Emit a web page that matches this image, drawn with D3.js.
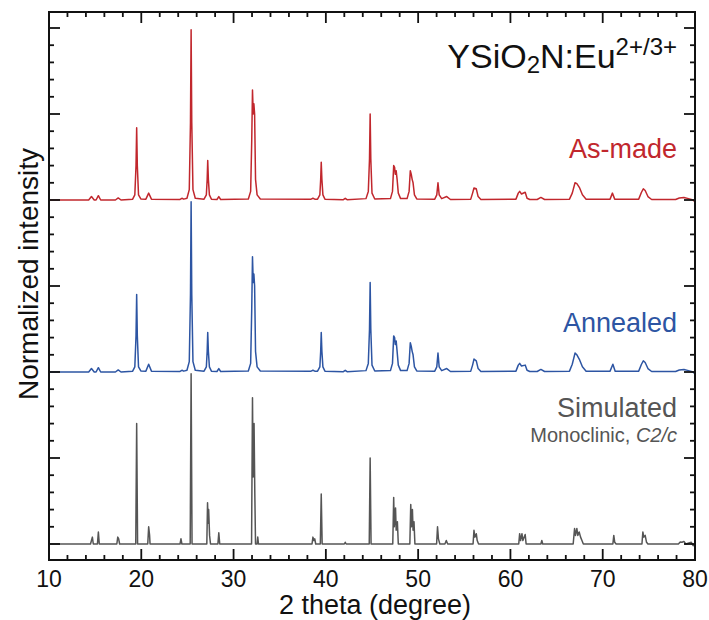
<!DOCTYPE html>
<html><head><meta charset="utf-8">
<script src="https://cdn.jsdelivr.net/npm/d3@7"></script>
<style>body{margin:0;background:#fff;} svg{display:block;font-family:"Liberation Sans",Arial,sans-serif;}</style>
</head><body><svg id="c" width="709" height="620"></svg>
<script>
// ---- data: [2theta, normalized intensity] vertices ----
const asMade = [[10,0],[14.3,0],[14.6,0.02],[14.9,0],[15.1,0],[15.35,0.025],[15.6,0],[17.2,0],[17.5,0.012],[17.8,0],
[19.05,0.004],[19.3,0.03],[19.43,0.2],[19.5,0.42],[19.57,0.2],[19.7,0.03],[19.95,0.006],[20.5,0.005],[20.8,0.04],[21.1,0.005],[24.2,0.003],[24.4,0.01],[24.6,0.005],
[24.95,0.01],[25.2,0.06],[25.33,0.45],[25.4,0.99],[25.47,0.45],[25.6,0.06],[25.85,0.01],
[26.8,0.005],[27.05,0.03],[27.14,0.12],[27.2,0.23],[27.27,0.12],[27.38,0.03],[27.6,0.005],
[28.2,0.003],[28.4,0.02],[28.6,0.003],
[31.6,0.006],[31.85,0.05],[31.97,0.35],[32.05,0.64],[32.13,0.5],[32.2,0.56],[32.28,0.5],[32.38,0.12],[32.55,0.03],[32.9,0.006],
[38.4,0.005],[38.6,0.01],[38.8,0.005],[39.1,0.005],[39.35,0.03],[39.44,0.12],[39.5,0.22],[39.57,0.12],[39.68,0.03],[39.9,0.005],
[41.9,0.002],[42.1,0.01],[42.3,0.002],
[44.35,0.008],[44.6,0.05],[44.73,0.24],[44.8,0.5],[44.87,0.24],[45.0,0.04],[45.3,0.006],
[47.0,0.008],[47.22,0.05],[47.35,0.2],[47.45,0.19],[47.52,0.15],[47.62,0.17],[47.72,0.12],[47.85,0.04],[48.1,0.008],
[48.8,0.008],[49.02,0.05],[49.15,0.17],[49.25,0.15],[49.35,0.12],[49.45,0.1],[49.6,0.03],[49.85,0.006],
[51.8,0.005],[52.02,0.03],[52.15,0.1],[52.28,0.03],[52.55,0.008],[53.1,0.02],[53.5,0.003],
[55.7,0.005],[55.9,0.04],[56.05,0.07],[56.3,0.065],[56.5,0.02],[56.8,0.003],[60.6,0.005],[60.85,0.04],[61.0,0.05],[61.2,0.035],[61.6,0.045],[61.8,0.01],[62.1,0.003],
[62.9,0.003],[63.3,0.015],[63.7,0.003],[66.4,0.005],[66.7,0.04],[67.0,0.1],[67.2,0.095],[67.5,0.07],[67.8,0.03],[68.2,0.005],
[70.8,0.005],[71.05,0.04],[71.3,0.005],[73.9,0.005],[74.2,0.045],[74.4,0.065],[74.6,0.055],[74.9,0.02],[75.3,0.003],
[77.9,0.003],[78.3,0.012],[78.8,0.015],[79.3,0.008],[79.7,0.002],[80,-0.01]];

const annealed = [[10,0],[14.3,0],[14.6,0.02],[14.9,0],[15.1,0],[15.35,0.025],[15.6,0],[17.2,0],[17.5,0.012],[17.8,0],
[19.05,0.004],[19.3,0.03],[19.43,0.21],[19.5,0.45],[19.57,0.21],[19.7,0.03],[19.95,0.006],[20.5,0.005],[20.8,0.045],[21.1,0.005],[24.2,0.003],[24.4,0.01],[24.6,0.005],
[24.95,0.01],[25.2,0.06],[25.33,0.45],[25.4,0.99],[25.47,0.45],[25.6,0.06],[25.85,0.01],
[26.8,0.005],[27.05,0.03],[27.14,0.12],[27.2,0.23],[27.27,0.12],[27.38,0.03],[27.6,0.005],
[28.2,0.003],[28.4,0.02],[28.6,0.003],
[31.6,0.006],[31.85,0.05],[31.97,0.37],[32.05,0.67],[32.13,0.52],[32.2,0.57],[32.28,0.5],[32.38,0.12],[32.55,0.03],[32.9,0.006],
[38.4,0.005],[38.6,0.01],[38.8,0.005],[39.1,0.005],[39.35,0.03],[39.44,0.12],[39.5,0.23],[39.57,0.12],[39.68,0.03],[39.9,0.005],
[41.9,0.002],[42.1,0.01],[42.3,0.002],
[44.35,0.008],[44.6,0.05],[44.73,0.25],[44.8,0.52],[44.87,0.25],[45.0,0.04],[45.3,0.006],
[47.0,0.008],[47.22,0.05],[47.35,0.21],[47.45,0.2],[47.52,0.16],[47.62,0.18],[47.72,0.12],[47.85,0.04],[48.1,0.008],
[48.8,0.008],[49.02,0.05],[49.15,0.17],[49.25,0.15],[49.35,0.12],[49.45,0.1],[49.6,0.03],[49.85,0.006],
[51.8,0.005],[52.02,0.03],[52.15,0.11],[52.28,0.03],[52.55,0.008],[53.1,0.02],[53.5,0.003],
[55.7,0.005],[55.9,0.04],[56.05,0.075],[56.3,0.065],[56.5,0.02],[56.8,0.003],[60.6,0.005],[60.85,0.04],[61.0,0.05],[61.2,0.035],[61.6,0.04],[61.8,0.01],[62.1,0.003],
[62.9,0.003],[63.3,0.015],[63.7,0.003],[66.4,0.005],[66.7,0.045],[67.0,0.11],[67.2,0.1],[67.5,0.07],[67.8,0.03],[68.2,0.005],
[70.8,0.005],[71.1,0.045],[71.35,0.005],[73.9,0.005],[74.2,0.045],[74.4,0.065],[74.6,0.055],[74.9,0.02],[75.3,0.003],
[77.9,0.003],[78.3,0.012],[78.8,0.015],[79.3,0.008],[79.7,0.002],[80,-0.01]];

const simulated = [[10,0],[14.5,0],[14.6,0.02],[14.7,0.04],[14.8,0],[15.25,0],[15.35,0.07],[15.45,0],[17.35,0],[17.45,0.04],[17.55,0.03],[17.65,0],
[19.4,0],[19.5,0.70],[19.6,0],[20.7,0],[20.8,0.1],[20.9,0.05],[20.95,0],[24.2,0],[24.3,0.03],[24.4,0],[25.3,0],[25.4,0.99],[25.5,0],
[27.1,0],[27.18,0.24],[27.25,0.12],[27.3,0.2],[27.4,0.05],[27.5,0],[28.3,0],[28.4,0.065],[28.5,0],
[31.95,0],[32.05,0.85],[32.12,0.39],[32.22,0.7],[32.3,0.3],[32.38,0],[32.55,0],[32.62,0.04],[32.7,0],
[38.5,0],[38.6,0.04],[38.7,0.02],[38.8,0.03],[38.9,0],[39.4,0],[39.5,0.29],[39.6,0],[42.0,0],[42.1,0.01],[42.2,0],[44.7,0],[44.8,0.5],[44.9,0],
[47.25,0],[47.35,0.27],[47.42,0.1],[47.55,0.21],[47.62,0.08],[47.75,0.13],[47.85,0],[49.1,0],[49.2,0.23],[49.28,0.1],[49.38,0.2],[49.45,0.08],[49.55,0.13],[49.65,0],
[52.0,0],[52.1,0.1],[52.2,0.03],[52.35,0],[52.9,0],[53.05,0.02],[53.2,0],[55.95,0],[56.05,0.08],[56.15,0.04],[56.3,0.06],[56.4,0.02],[56.55,0],
[60.9,0],[61.0,0.06],[61.1,0.02],[61.25,0.06],[61.35,0.02],[61.6,0.055],[61.7,0],[63.3,0],[63.4,0.02],[63.5,0],
[66.8,0],[66.95,0.09],[67.05,0.05],[67.2,0.09],[67.3,0.05],[67.45,0.07],[67.6,0.04],[67.75,0.02],[67.9,0],
[71.1,0],[71.2,0.05],[71.3,0.01],[71.45,0],[74.25,0],[74.35,0.07],[74.45,0.04],[74.6,0.05],[74.75,0.01],[74.9,0],
[78.2,0],[78.4,0.012],[78.6,0.01],[78.8,0.015],[79.0,0],[79.6,0.01],[79.8,-0.01],[80,0]];

const seriesNames = ["As-made","Annealed","Simulated"];
const seriesOffsets = [2, 1, 0];
const seriesColors = ["#c1272d","#2d55a3","#555555"];
const xTickValues = [10,20,30,40,50,60,70,80];
const xLabel = "2 theta (degree)";
const yLabel = "Normalized intensity";

// ---- layout ----
const L=49, R=695, T=12, B=560;
const svg = d3.select("#c");
const x = d3.scaleLinear().domain([10,80]).range([L,R]);
const y = d3.scaleLinear().domain([(544-B)/172,(544-T)/172]).range([B,T]);

const line = d3.line().x(d=>x(d[0])).y(d=>y(d[1]));
svg.append("clipPath").attr("id","pc").append("rect").attr("x",L).attr("y",T).attr("width",R-L).attr("height",B-T);
const data=[asMade,annealed,simulated];
data.forEach((s,i)=>{
  svg.append("path").attr("clip-path","url(#pc)")
    .attr("d", line(s.map(d=>[d[0], d[1]+seriesOffsets[i]])))
    .attr("fill","none").attr("stroke",seriesColors[i]).attr("stroke-width",1.5).attr("stroke-linejoin","round");
});

// ticks
const minorX = d3.range(10,81,2), minorY = d3.range(0,3.01,0.1).map(v=>+v.toFixed(2));
const isMajX = v => v%10===0, isMajY = v => Math.abs(v*2-Math.round(v*2))<1e-6;
const tk = svg.append("g").attr("stroke","#111").attr("stroke-width",1.8);
minorX.forEach(v=>{
  const len = isMajX(v)?11:5;
  tk.append("line").attr("x1",x(v)).attr("x2",x(v)).attr("y1",B).attr("y2",B-len);
  tk.append("line").attr("x1",x(v)).attr("x2",x(v)).attr("y1",T).attr("y2",T+len);
});
minorY.forEach(v=>{
  const len = isMajY(v)?11:5;
  tk.append("line").attr("y1",y(v)).attr("y2",y(v)).attr("x1",L).attr("x2",L+len);
  tk.append("line").attr("y1",y(v)).attr("y2",y(v)).attr("x1",R).attr("x2",R-len);
});
svg.append("rect").attr("x",L).attr("y",T).attr("width",R-L).attr("height",B-T)
  .attr("fill","none").attr("stroke","#111").attr("stroke-width",2);

// x tick labels
svg.append("g").selectAll("text").data(xTickValues).join("text")
  .attr("x",d=>x(d)).attr("y",587).attr("text-anchor","middle")
  .attr("font-size",23).attr("fill","#111").text(d=>d);
svg.append("text").attr("x",(L+R)/2+3).attr("y",614).attr("text-anchor","middle")
  .attr("font-size",27).attr("fill","#111").text(xLabel);
svg.append("text").attr("transform","translate(38,274) rotate(-90)").attr("text-anchor","middle")
  .attr("font-size",28).attr("fill","#111").text(yLabel);

// title
const t = svg.append("text").attr("x",677).attr("y",68).attr("text-anchor","end").attr("font-size",34).attr("fill","#111");
t.append("tspan").text("YSiO");
t.append("tspan").attr("font-size",24).attr("dy",5).text("2");
t.append("tspan").attr("dy",-5).text("N:Eu");
t.append("tspan").attr("font-size",24).attr("dy",-13).text("2+/3+");

// series labels
svg.append("text").attr("x",677).attr("y",158).attr("text-anchor","end").attr("font-size",27).attr("fill",seriesColors[0]).text(seriesNames[0]);
svg.append("text").attr("x",677).attr("y",332).attr("text-anchor","end").attr("font-size",27).attr("fill",seriesColors[1]).text(seriesNames[1]);
svg.append("text").attr("x",677).attr("y",417).attr("text-anchor","end").attr("font-size",27).attr("fill",seriesColors[2]).text(seriesNames[2]);
const m = svg.append("text").attr("x",677).attr("y",442).attr("text-anchor","end").attr("font-size",20).attr("fill",seriesColors[2]);
m.append("tspan").text("Monoclinic, ");
m.append("tspan").attr("font-style","italic").text("C2/c");
</script></body></html>
